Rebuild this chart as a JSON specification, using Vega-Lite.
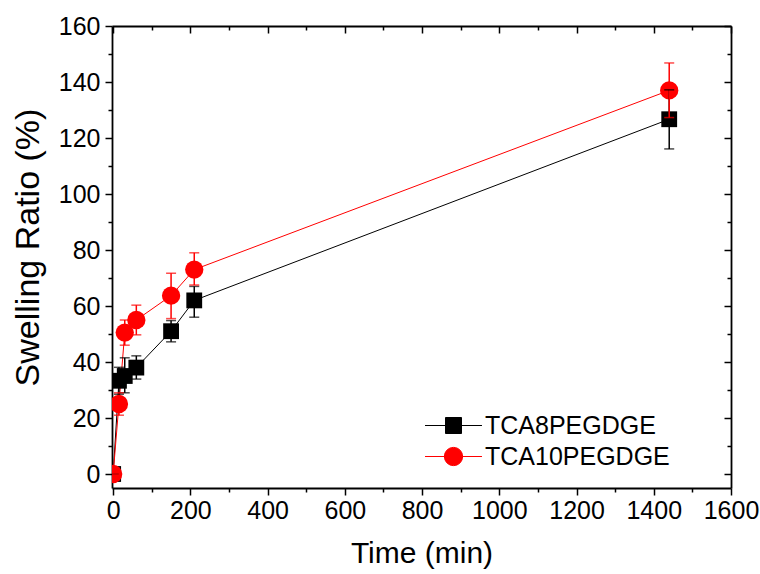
{
  "$schema": "https://vega.github.io/schema/vega-lite/v6.json",
  "width": 619,
  "height": 462,
  "autosize": {"type": "none"},
  "padding": {"left": 112, "top": 26, "right": 29, "bottom": 86},
  "background": "white",
  "config": {
    "view": {"stroke": null},
    "font": "Liberation Sans",
    "axis": {"domainColor": "black", "tickColor": "black", "labelColor": "black", "titleColor": "black", "grid": false, "domainWidth": 1.8, "tickWidth": 1.5, "labelFont": "Liberation Sans", "titleFont": "Liberation Sans", "titleFontWeight": "normal"}
  },
  "data": {
    "values": [
      {"series": "TCA8PEGDGE", "time": 0, "ratio": 0, "lo": 0, "hi": 0},
      {"series": "TCA8PEGDGE", "time": 15, "ratio": 33.3, "lo": 28.5, "hi": 38.1},
      {"series": "TCA8PEGDGE", "time": 30, "ratio": 35, "lo": 29, "hi": 41.5},
      {"series": "TCA8PEGDGE", "time": 60, "ratio": 38, "lo": 33.9, "hi": 42.2},
      {"series": "TCA8PEGDGE", "time": 150, "ratio": 51, "lo": 47.2, "hi": 54.8},
      {"series": "TCA8PEGDGE", "time": 210, "ratio": 62, "lo": 56, "hi": 67},
      {"series": "TCA8PEGDGE", "time": 1440, "ratio": 126.7, "lo": 116.1, "hi": 137.2},
      {"series": "TCA10PEGDGE", "time": 0, "ratio": 0, "lo": 0, "hi": 0},
      {"series": "TCA10PEGDGE", "time": 15, "ratio": 25, "lo": 21, "hi": 29},
      {"series": "TCA10PEGDGE", "time": 30, "ratio": 50.5, "lo": 46, "hi": 55},
      {"series": "TCA10PEGDGE", "time": 60, "ratio": 55, "lo": 49.7, "hi": 60.3},
      {"series": "TCA10PEGDGE", "time": 150, "ratio": 63.7, "lo": 55.5, "hi": 71.7},
      {"series": "TCA10PEGDGE", "time": 210, "ratio": 73, "lo": 67.5, "hi": 79},
      {"series": "TCA10PEGDGE", "time": 1440, "ratio": 137, "lo": 127.3, "hi": 146.8}
    ]
  },
  "resolve": {"axis": {"x": "independent", "y": "independent"}},
  "layer": [
    {
      "mark": {"type": "line", "strokeWidth": 1, "clip": true},
      "encoding": {
        "x": {"field": "time", "type": "quantitative", "scale": {"domain": [-3, 1600], "nice": false, "zero": false},
          "axis": {"orient": "bottom", "values": [0, 200, 400, 600, 800, 1000, 1200, 1400, 1600], "format": "d", "tickSize": 7, "labelFontSize": 25, "labelPadding": 3, "title": "Time (min)", "titleFontSize": 30, "titlePadding": 15, "labelFlush": false}},
        "y": {"field": "ratio", "type": "quantitative", "scale": {"domain": [-5, 160], "nice": false, "zero": false},
          "axis": {"orient": "left", "values": [0, 20, 40, 60, 80, 100, 120, 140, 160], "format": "d", "tickSize": 7, "labelFontSize": 25, "labelPadding": 5, "title": "Swelling Ratio (%)", "titleFontSize": 34, "titlePadding": 13, "titleY": 221, "labelFlush": false}},
        "color": {"field": "series", "type": "nominal", "scale": {"domain": ["TCA8PEGDGE", "TCA10PEGDGE"], "range": ["#000000", "#ff0000"]},
          "legend": {
            "orient": "none", "legendX": 325, "legendY": 383, "title": null, "padding": 0,
            "labelFontSize": 25, "labelFont": "Liberation Sans", "labelColor": "black", "labelOffset": 15, "labelLimit": 400,
            "symbolSize": 1024, "symbolStrokeWidth": 1, "rowPadding": 1,
            "encode": {"symbols": {"update": {
              "shape": {"signal": "datum.value === 'TCA8PEGDGE' ? 'M-1.78,0H1.78M-0.5,-0.5H0.5V0.5H-0.5Z' : 'M-1.78,0H1.78M-0.57,0A0.57,0.57 0 1,0 0.57,0A0.57,0.57 0 1,0 -0.57,0Z'"},
              "fill": {"signal": "datum.value === 'TCA8PEGDGE' ? '#000000' : '#ff0000'"},
              "stroke": {"signal": "datum.value === 'TCA8PEGDGE' ? '#000000' : '#ff0000'"},
              "size": {"value": 1024},
              "strokeWidth": {"value": 1},
              "opacity": {"value": 1}
            }}}
          }}
      }
    },
    {
      "transform": [{"filter": {"field": "series", "equal": "TCA8PEGDGE"}}],
      "mark": {"type": "point", "shape": "square", "size": 250, "filled": true, "opacity": 1, "clip": true},
      "encoding": {
        "x": {"field": "time", "type": "quantitative",
          "axis": {"orient": "bottom", "values": [100, 300, 500, 700, 900, 1100, 1300, 1500], "tickSize": 4, "labels": false, "domain": false, "title": null}},
        "y": {"field": "ratio", "type": "quantitative",
          "axis": {"orient": "left", "values": [10, 30, 50, 70, 90, 110, 130, 150], "tickSize": 4, "labels": false, "domain": false, "title": null}},
        "color": {"field": "series", "type": "nominal", "legend": null}
      }
    },
    {
      "transform": [{"filter": {"field": "series", "equal": "TCA10PEGDGE"}}],
      "mark": {"type": "point", "shape": "circle", "size": 335, "filled": true, "opacity": 1, "clip": true},
      "encoding": {
        "x": {"field": "time", "type": "quantitative", "axis": null},
        "y": {"field": "ratio", "type": "quantitative", "axis": null},
        "color": {"field": "series", "type": "nominal", "legend": null}
      }
    },
    {
      "mark": {"type": "rule", "strokeWidth": 1.5, "clip": true},
      "encoding": {
        "x": {"field": "time", "type": "quantitative",
          "axis": {"orient": "top", "values": [0, 200, 400, 600, 800, 1000, 1200, 1400, 1600], "tickSize": -7, "labels": false, "title": null}},
        "y": {"field": "lo", "type": "quantitative",
          "axis": {"orient": "right", "values": [0, 20, 40, 60, 80, 100, 120, 140, 160], "tickSize": -7, "labels": false, "title": null}},
        "y2": {"field": "hi"},
        "color": {"field": "series", "type": "nominal", "legend": null}
      }
    },
    {
      "transform": [{"fold": ["lo", "hi"], "as": ["bound", "val"]}],
      "mark": {"type": "tick", "orient": "horizontal", "size": 10, "thickness": 1.5, "clip": true},
      "encoding": {
        "x": {"field": "time", "type": "quantitative",
          "axis": {"orient": "top", "values": [100, 300, 500, 700, 900, 1100, 1300, 1500], "tickSize": -4, "labels": false, "domain": false, "title": null}},
        "y": {"field": "val", "type": "quantitative",
          "axis": {"orient": "right", "values": [10, 30, 50, 70, 90, 110, 130, 150], "tickSize": -4, "labels": false, "domain": false, "title": null}},
        "color": {"field": "series", "type": "nominal", "legend": null}
      }
    }
  ]
}
